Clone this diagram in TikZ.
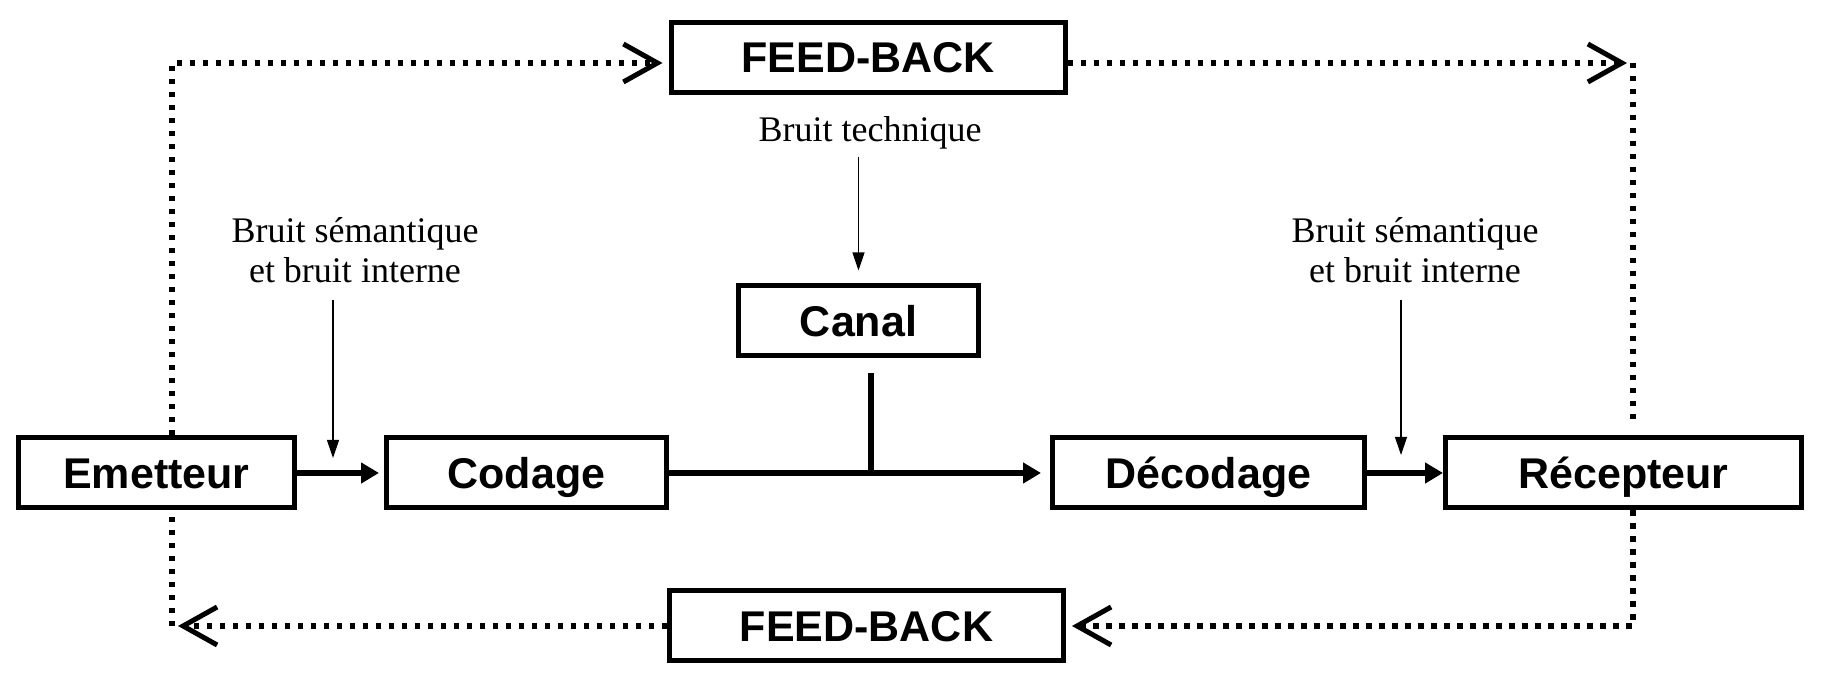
\documentclass[tikz,border=0pt]{standalone}
\usepackage{fontspec}
\setmainfont{Liberation Serif}
\newfontfamily\sansgras{Liberation Sans}
\usetikzlibrary{arrows.meta}

\begin{document}
\begin{tikzpicture}[x=50pt, y=50pt, line width=0.6pt,
  boite/.style={draw, line width=2.5pt, minimum height=35pt, inner sep=0pt, text height=15.5pt, text depth=0pt, font=\sansgras\bfseries\fontsize{21.5}{24}\selectfont},
  bruit/.style={align=center, font=\fontsize{18}{20}\selectfont},
  flux/.style={line width=2.6pt, -{Triangle[length=9pt, width=10pt]}},
  pointille/.style={line width=2.6pt, dash pattern=on 2.6pt off 3.9pt},
  retour/.style={pointille, shorten >=3pt, -{Straight Barb[length=17pt, width=19pt, line width=2.5pt]}},
  fleche/.style={line width=0.6pt, -{Triangle[length=9pt, width=6pt]}}]
  \path (0,0) rectangle (18.22,7.00); % marges
  \node[boite, minimum width=138pt] (emetteur) at (1.565,2.27) {Emetteur};
  \node[boite, minimum width=140pt] (codage) at (5.265,2.27) {Codage};
  \node[boite, minimum width=120pt] (canal) at (8.585,3.79) {Canal};
  \node[boite, minimum width=156pt] (decodage) at (12.085,2.27) {Décodage};
  \node[boite, minimum width=178pt] (recepteur) at (16.235,2.27) {Récepteur};
  \node[boite, minimum width=197pt] (fbhaut) at (8.68,6.425) {FEED-BACK};
  \node[boite, minimum width=197pt] (fbbas) at (8.665,0.74) {FEED-BACK};
  \node[bruit] (bruitg) at (3.55,4.50) {Bruit sémantique\\et bruit interne};
  \node[bruit] (bruitd) at (14.15,4.50) {Bruit sémantique\\et bruit interne};
  \node[bruit] (bruitt) at (8.70,5.67) {Bruit technique};
  \coordinate (ng) at (3.33,2.42);
  \coordinate (nd) at (14.01,2.45);
  \coordinate (jonction) at (8.71,2.29);
  \coordinate (hg) at (1.72,6.37);
  \coordinate (hd) at (16.33,6.37);
  \coordinate (bd) at (16.33,0.74);
  \coordinate (bg) at (1.72,0.74);
  \draw[flux, shorten >=2.5pt] (emetteur) -- (codage);
  \draw[flux, shorten >=4.5pt] (codage) -- (decodage);
  \draw[flux] (decodage) -- (recepteur);
  \draw[line width=2.6pt, shorten <=7.5pt] (canal.south -| jonction) -- (jonction);
  \draw[fleche, shorten <=5pt] (bruitg.south -| ng) -- (ng);
  \draw[fleche, shorten <=5pt] (bruitd.south -| nd) -- (nd);
  \draw[fleche, shorten >=6.5pt] (bruitt.south -| canal.north) -- (canal.north);
  \draw[retour] (emetteur.north -| hg) -- (hg) -- (fbhaut.west |- hg);
  \draw[retour] (fbhaut.east |- hd) -- (hd);
  \draw[pointille, shorten >=7.5pt] (hd) -- (recepteur.north -| hd);
  \draw[retour] (recepteur.south -| bd) -- (bd) -- (fbbas.east);
  \draw[retour] (fbbas.west) -- (bg);
  \draw[pointille] (bg) -- (emetteur.south -| bg);
\end{tikzpicture}
\end{document}
